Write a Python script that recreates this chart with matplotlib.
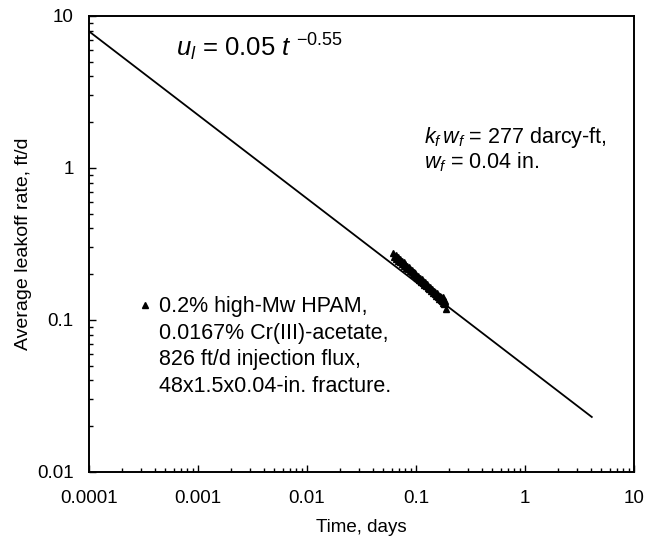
import matplotlib
matplotlib.use("Agg")
import matplotlib.pyplot as plt
import numpy as np

plt.rcParams['font.family'] = ['Liberation Sans', 'DejaVu Sans']
plt.rcParams['mathtext.fontset'] = 'custom'
plt.rcParams['mathtext.rm'] = 'Liberation Sans'
plt.rcParams['mathtext.it'] = 'Liberation Sans:italic'

# Measured data (time, days ; average leakoff rate, ft/d)
time_days = [0.062, 0.063, 0.065, 0.066, 0.068, 0.069, 0.071, 0.072, 0.074, 0.075,
             0.077, 0.078, 0.080, 0.081, 0.083, 0.084, 0.086, 0.088, 0.089, 0.091,
             0.092, 0.094, 0.095, 0.097, 0.098, 0.100, 0.101, 0.103, 0.105, 0.107,
             0.109, 0.111, 0.113, 0.115, 0.117, 0.119, 0.121, 0.123, 0.125, 0.128,
             0.130, 0.133, 0.135, 0.138, 0.140, 0.143, 0.145, 0.148, 0.150, 0.153,
             0.155, 0.158, 0.160, 0.163, 0.165, 0.168, 0.170, 0.173, 0.175, 0.178,
             0.180, 0.183, 0.185, 0.178, 0.182, 0.190]
leak_rate = [0.277, 0.260, 0.268, 0.253, 0.260, 0.245, 0.253, 0.239, 0.246, 0.233,
             0.239, 0.227, 0.233, 0.221, 0.227, 0.216, 0.222, 0.210, 0.217, 0.206,
             0.212, 0.200, 0.208, 0.197, 0.203, 0.192, 0.199, 0.188, 0.194, 0.184,
             0.189, 0.179, 0.185, 0.175, 0.181, 0.171, 0.177, 0.168, 0.173, 0.163,
             0.168, 0.159, 0.164, 0.155, 0.160, 0.151, 0.156, 0.148, 0.153, 0.144,
             0.150, 0.141, 0.147, 0.138, 0.144, 0.136, 0.141, 0.133, 0.138, 0.130,
             0.135, 0.129, 0.133, 0.142, 0.128, 0.118]

# Power-law fit u_l = 0.05 t^-0.55
fit_coef = 0.05
fit_exp = -0.55
fit_t = [1e-4, 4.1]

W, H = 660, 540
fig = plt.figure(figsize=(W / 100, H / 100), dpi=100)
ax = fig.add_axes([89 / W, 1 - 472 / H, (634 - 89) / W, (472 - 16) / H])


def px(x, y):
    return x / W, 1 - y / H


ft = np.array(fit_t)
ax.plot(ft, fit_coef * ft ** fit_exp, color='black', lw=1.3)
ax.plot(time_days, leak_rate, linestyle='none', marker='^', ms=4.8,
        color='black', mec='black')

ax.set_xscale('log')
ax.set_yscale('log')
ax.set_xlim(1e-4, 10)
ax.set_ylim(0.01, 10)

xt = [1e-4, 1e-3, 1e-2, 1e-1, 1, 10]
xl = ['0.0001', '0.001', '0.01', '0.1', '1', '10']
yt = [0.01, 0.1, 1, 10]
yl = ['0.01', '0.1', '1', '10']
ax.set_xticks(xt)
ax.set_xticklabels(xl)
ax.set_yticks(yt)
ax.set_yticklabels(yl)
ax.tick_params(which='major', direction='in', length=5, width=1, labelsize=13.5)
ax.tick_params(which='minor', direction='in', length=3, width=1)
ax.tick_params(axis='x', pad=13)
ax.tick_params(axis='y', pad=11)
for s in ax.spines.values():
    s.set_linewidth(1.4)

fig.text(*px(361, 527), 'Time, days', fontsize=13.5, ha='center', va='center')
fig.text(*px(24, 244), 'Average leakoff rate, ft/d', fontsize=14,
         ha='center', va='center', rotation=90)

fig.text(*px(176, 56), r'$u_l$ = 0.05 $t$ $^{-0.55}$', fontsize=18.5,
         ha='left', va='baseline')
fig.text(*px(424, 143), r'$k_f\,w_f$ = 277 darcy-ft,', fontsize=15.5,
         ha='left', va='baseline')
fig.text(*px(424, 168), r'$w_f$ = 0.04 in.', fontsize=15.5,
         ha='left', va='baseline')

fig.lines.append(matplotlib.lines.Line2D([145 / W], [1 - 305 / H], transform=fig.transFigure,
                                         marker='^', ms=4.5, color='black', linestyle='none'))
legend_lines = ['0.2% high-Mw HPAM,', '0.0167% Cr(III)-acetate,',
                '826 ft/d injection flux,', '48x1.5x0.04-in. fracture.']
for i, s in enumerate(legend_lines):
    fig.text(*px(159, 312 + i * 26.7), s, fontsize=15.5, ha='left', va='baseline')

fig.savefig('out.png', dpi=100)
